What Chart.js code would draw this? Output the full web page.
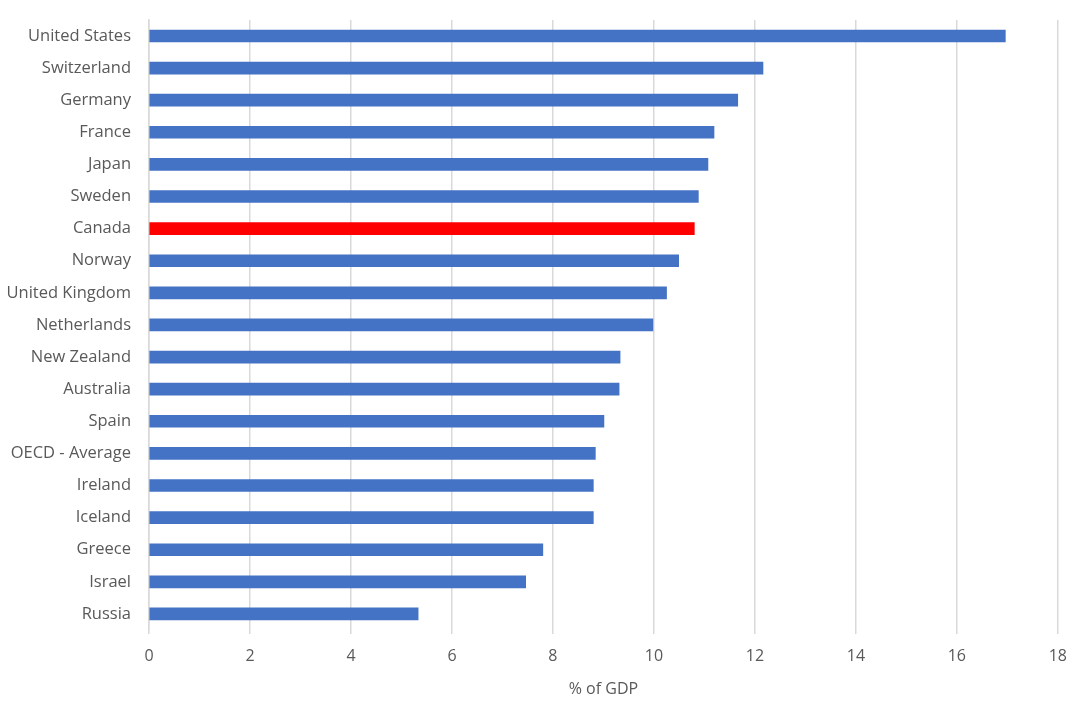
<!DOCTYPE html>
<html>
<head>
<meta charset="utf-8">
<script src="https://cdn.jsdelivr.net/npm/chart.js@4/dist/chart.umd.min.js"></script>
<style>
html,body{margin:0;padding:0;background:#fff;}
#wrap{width:1080px;height:712px;position:relative;}
</style>
</head>
<body>
<div id="wrap"><canvas id="c" width="1080" height="712"></canvas></div>
<script>
const categories = ["United States","Switzerland","Germany","France","Japan","Sweden","Canada","Norway","United Kingdom","Netherlands","New Zealand","Australia","Spain","OECD - Average","Ireland","Iceland","Greece","Israel","Russia"];
const values = [16.96,12.16,11.66,11.19,11.07,10.88,10.80,10.49,10.25,9.98,9.33,9.31,9.01,8.84,8.80,8.80,7.80,7.46,5.33];
const highlight = "Canada";
const xTicks = [0,2,4,6,8,10,12,14,16,18];
const axisTitle = "% of GDP";

const FONT = "'Open Sans', 'Liberation Sans', sans-serif";
const colors = categories.map(c => c === highlight ? "#FF0000" : "#4472C4");

new Chart(document.getElementById('c'), {
  type: 'bar',
  data: {
    labels: categories,
    datasets: [{
      data: values,
      backgroundColor: colors,
      borderWidth: 0,
      barThickness: 12
    }]
  },
  options: {
    indexAxis: 'y',
    responsive: false,
    animation: false,
    layout: { padding: { top: 10, right: 22, left: 0, bottom: 0 } },
    plugins: { legend: { display: false }, tooltip: { enabled: false } },
    scales: {
      x: {
        min: 0, max: 18,
        afterBuildTicks: s => { s.ticks = xTicks.map(v => ({ value: v })); },
        afterFit: s => { s.height = 82; },
        grid: { color: '#D9D9D9', lineWidth: 1.5, drawTicks: true, tickLength: 4, tickColor: '#D9D9D9' },
        border: { display: false },
        ticks: { color: '#595959', font: { family: FONT, size: 16 }, padding: 13, maxRotation: 0 },
        title: { display: true, text: axisTitle, color: '#595959', font: { family: FONT, size: 16 }, padding: { top: 0, bottom: 13 } }
      },
      y: {
        afterFit: s => { s.width = 149; },
        grid: { display: false },
        border: { display: true, color: '#D9D9D9', width: 1.5 },
        ticks: { color: '#595959', font: { family: FONT, size: 16.5 }, padding: 10, autoSkip: false }
      }
    }
  }
});
</script>
</body>
</html>
